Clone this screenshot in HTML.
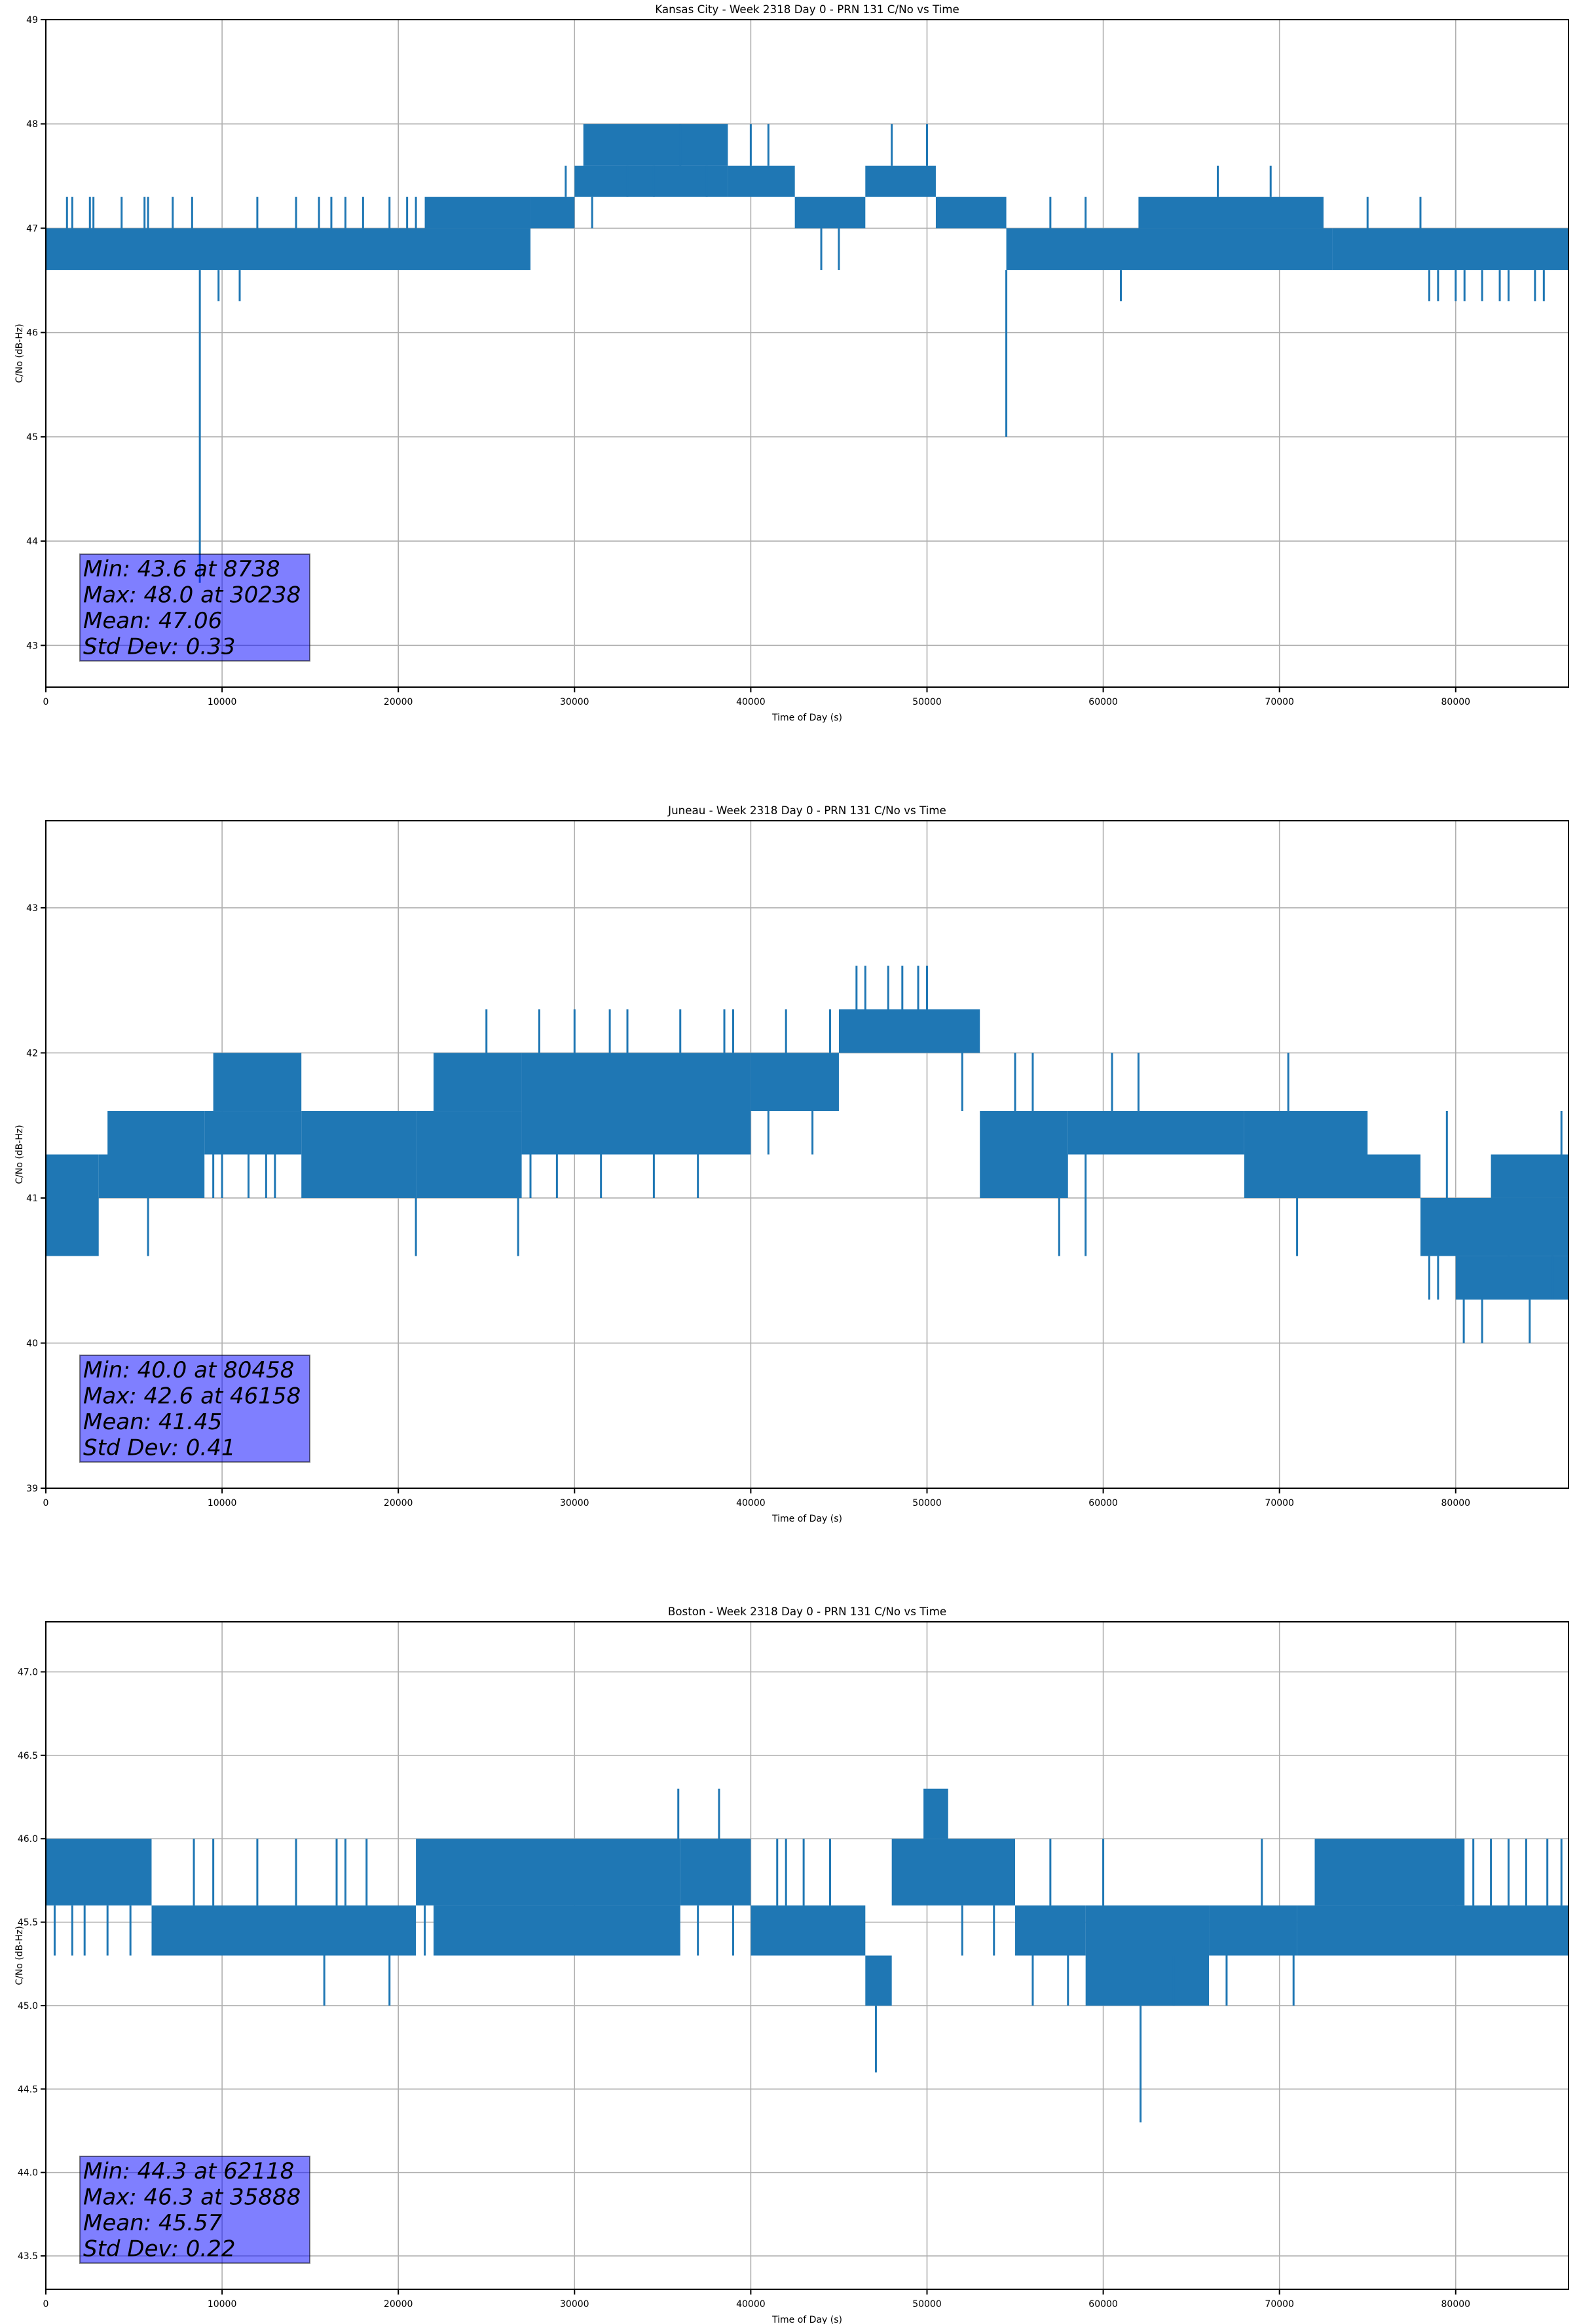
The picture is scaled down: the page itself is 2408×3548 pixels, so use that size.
<!DOCTYPE html>
<html><head><meta charset="utf-8">
<style>
html,body{margin:0;padding:0;background:#fff;}
svg{display:block;font-family:"DejaVu Sans","Liberation Sans",sans-serif;}
</style></head>
<body>
<svg id="fig" width="2408" height="3548" viewBox="0 0 2408 3548" xmlns="http://www.w3.org/2000/svg"></svg>
<script>
// ---- Chart data ----
// Bands: [startTime, endTime, low, high]  (dense vertical C/No sweeps)
const titles = ["Kansas City - Week 2318 Day 0 - PRN 131 C/No vs Time",
                "Juneau - Week 2318 Day 0 - PRN 131 C/No vs Time",
                "Boston - Week 2318 Day 0 - PRN 131 C/No vs Time"];
const yLimits = [[42.6, 49.0], [39.0, 43.6], [43.3, 47.3]];
const yTicks1 = [43, 44, 45, 46, 47, 48, 49];
const yTicks2 = [39, 40, 41, 42, 43];
const yTicks3 = [43.5, 44.0, 44.5, 45.0, 45.5, 46.0, 46.5, 47.0];
const xTicks = [0, 10000, 20000, 30000, 40000, 50000, 60000, 70000, 80000];
const xMax = 86400;

const bands1 = [
 [0,27500,46.6,47.0],[21500,27500,47.0,47.3],[27500,30000,47.0,47.3],
 [30000,38700,47.3,47.6],[30500,38700,47.6,48.0],[38700,42500,47.3,47.6],
 [42500,46500,47.0,47.3],[46500,50500,47.3,47.6],[50500,54500,47.0,47.3],
 [54500,61000,46.6,47.0],[61000,73000,46.6,47.0],[62000,72500,47.0,47.3],
 [73000,86400,46.6,47.0]
];
const spikeT1 = [8738,9800,11000,44000,45000,54500,61000,78500,80000,81500,83000,84500,
  1200,1500,2500,2700,4300,5600,5800,7200,8300,12000,14200,15500,16200,17000,18000,19500,20500,21000,
  36000,40000,41000,48000,50000,57000,59000,66500,69500,75000,78000,29500,46000,31000,
  79000,80500,82500,85000,33000,34500,37500,39500];
const spikeV1 = [43.6,46.3,46.3,46.6,46.6,45.0,46.3,46.3,46.3,46.3,46.3,46.3,
  47.3,47.3,47.3,47.3,47.3,47.3,47.3,47.3,47.3,47.3,47.3,47.3,47.3,47.3,47.3,47.3,47.3,47.3,
  48.0,48.0,48.0,48.0,48.0,47.3,47.3,47.6,47.6,47.3,47.3,47.6,47.0,47.0,
  46.3,46.3,46.3,46.3,47.3,47.3,47.3,47.3];

const bands2 = [
 [0,3000,40.6,41.3],[3000,9000,41.0,41.3],[3500,9000,41.3,41.6],
 [9000,14500,41.3,41.6],[9500,14500,41.6,42.0],[14500,21000,41.0,41.3],[14500,21000,41.3,41.6],
 [21000,27000,41.0,41.6],[22000,27000,41.6,42.0],[27000,40000,41.3,42.0],
 [40000,45000,41.6,42.0],[45000,53000,42.0,42.3],[53000,58000,41.0,41.6],
 [58000,68000,41.3,41.6],[68000,78000,41.0,41.3],[68000,75000,41.3,41.6],
 [78000,86400,40.6,41.0],[80000,86400,40.3,40.6],[82000,86400,41.0,41.3]
];
const spikeT2 = [5800,21000,26800,46000,47800,50000,80458,84200,59000,57500,71000,
  30000,33000,36000,38500,46500,48600,49500,86000,79500,
  10000,11500,13000,27500,29000,31500,34500,37000,41000,43500,44500,
  9500,12500,25000,28000,32000,39000,42000,52000,55000,56000,60500,62000,66500,70500,
  78500,79000,81500,83000,85500];
const spikeV2 = [40.6,40.6,40.6,42.6,42.6,42.6,40.0,40.0,40.6,40.6,40.6,
  42.3,42.3,42.3,42.3,42.6,42.6,42.6,41.6,41.6,
  41.0,41.0,41.0,41.0,41.0,41.0,41.0,41.0,41.3,41.3,42.3,
  41.0,41.0,42.3,42.3,42.3,42.3,42.3,41.6,42.0,42.0,42.0,42.0,41.6,42.0,
  40.3,40.3,40.0,40.3,40.3];

const bands3 = [
 [0,6000,45.6,46.0],[6000,21000,45.3,45.6],[21000,36000,45.6,46.0],[22000,36000,45.3,45.6],
 [36000,40000,45.6,46.0],[40000,46500,45.3,45.6],[46500,48000,45.0,45.3],
 [48000,55000,45.6,46.0],[49800,51200,46.0,46.3],[55000,59000,45.3,45.6],
 [59000,66000,45.0,45.3],[59000,66000,45.3,45.6],[66000,71000,45.3,45.6],
 [71000,86400,45.3,45.6],[72000,80500,45.6,46.0]
];
const spikeT3 = [35888,38200,47100,62118,15800,19500,70800,1500,3500,8400,14200,17000,
  42000,44500,56000,58000,82000,84000,86000,
  500,2200,4800,9500,12000,16500,18200,21500,37000,39000,41500,43000,52000,
  53800,57000,60000,64000,67000,69000,81000,83000,85200];
const spikeV3 = [46.3,46.3,44.6,44.3,45.0,45.0,45.0,45.3,45.3,46.0,46.0,46.0,
  46.0,46.0,45.0,45.0,46.0,46.0,46.0,
  45.3,45.3,45.3,46.0,46.0,46.0,46.0,45.3,45.3,45.3,46.0,46.0,45.3,
  45.3,46.0,46.0,45.0,45.0,46.0,46.0,46.0,46.0];

const statLines = [
 ["Min: 43.6 at 8738","Max: 48.0 at 30238","Mean: 47.06","Std Dev: 0.33"],
 ["Min: 40.0 at 80458","Max: 42.6 at 46158","Mean: 41.45","Std Dev: 0.41"],
 ["Min: 44.3 at 62118","Max: 46.3 at 35888","Mean: 45.57","Std Dev: 0.22"]
];

// ---- Layout ----
const L = 70, R = 2395, H = 1019;
const tops = [30, 1253, 2476];
const NS = "http://www.w3.org/2000/svg";
const svg = document.getElementById("fig");
function mk(tag, attrs, parent){ const e=document.createElementNS(NS,tag); for(const k in attrs) e.setAttribute(k,attrs[k]); (parent||svg).appendChild(e); return e; }

const allBands=[bands1,bands2,bands3], allST=[spikeT1,spikeT2,spikeT3], allSV=[spikeV1,spikeV2,spikeV3], allYT=[yTicks1,yTicks2,yTicks3];
const color="#1f77b4";

for(let p=0;p<3;p++){
  const top=tops[p], bot=top+H;
  const [y0,y1]=yLimits[p];
  const xs = t => L + (t/xMax)*(R-L);
  const ys = v => bot - (v-y0)/(y1-y0)*H;
  const g = mk("g",{});
  
  
  const grid = mk("g",{},g);
  
  
  xTicks.forEach(t=>{ mk("line",{x1:xs(t),x2:xs(t),y1:top,y2:bot,stroke:"#b0b0b0","stroke-width":1.6},grid); });
  allYT[p].forEach(v=>{ mk("line",{x1:L,x2:R,y1:ys(v),y2:ys(v),stroke:"#b0b0b0","stroke-width":1.6},grid); });
  const ser = mk("g",{},g);
  
  
  allBands[p].forEach(b=>{
    const r = mk("rect",{x:xs(b[0]),y:ys(b[3]),width:Math.max(1,xs(b[1])-xs(b[0])),height:ys(b[2])-ys(b[3]),fill:color},ser);
    
    
  });
  const st=allST[p], sv=allSV[p];
  st.forEach((t,i)=>{
    let ref=null; allBands[p].forEach(b=>{ if(t>=b[0]&&t<=b[1]){ if(sv[i]<b[2]) ref = ref===null?b[2]:Math.min(ref,b[2]); else if(sv[i]>b[3]) ref = ref===null?b[3]:Math.max(ref,b[3]); }});
    if(ref===null) ref=sv[i];
    const l = mk("line",{x1:xs(t),x2:xs(t),y1:ys(ref),y2:ys(sv[i]),stroke:color,"stroke-width":3},ser);
    
    
  });
  const fr = mk("rect",{x:L,y:top,width:R-L,height:H,fill:"none",stroke:"#000","stroke-width":2},g);
  
  
  xTicks.forEach(t=>{
    mk("line",{x1:xs(t),x2:xs(t),y1:bot,y2:bot+8,stroke:"#000","stroke-width":2},g);
    const tx = mk("text",{x:xs(t),y:bot+27,"font-size":14,"text-anchor":"middle",fill:"#000"},g);
    tx.textContent=t;
    
    
  });
  allYT[p].forEach(v=>{
    mk("line",{x1:L-8,x2:L,y1:ys(v),y2:ys(v),stroke:"#000","stroke-width":2},g);
    const tx = mk("text",{x:L-12,y:ys(v)+5,"font-size":14,"text-anchor":"end",fill:"#000"},g);
    tx.textContent = p===2 ? v.toFixed(1) : v;
    
    
  });
  const ti = mk("text",{x:(L+R)/2,y:top-10,"font-size":16.7,"text-anchor":"middle",fill:"#000"},g);
  ti.textContent=titles[p];
  
  
  const xl = mk("text",{x:(L+R)/2,y:bot+51,"font-size":14,"text-anchor":"middle",fill:"#000"},g);
  xl.textContent="Time of Day (s)";
  
  
  const yl = mk("text",{x:0,y:0,"font-size":14,"text-anchor":"middle",fill:"#000",transform:`translate(34,${top+H/2}) rotate(-90)`},g);
  yl.textContent="C/No (dB-Hz)";
  
  
  const bx = mk("rect",{x:122,y:bot-203,width:351,height:163,fill:"rgba(0,0,255,0.5)",stroke:"rgba(0,0,0,0.5)","stroke-width":2},g);
  
  
  statLines[p].forEach((s,i)=>{
    const t = mk("text",{x:127,y:bot-203+34+i*39.5,"font-size":34,"font-style":"italic",fill:"#000"},g);
    t.textContent=s;
    
    
  });
}
</script>
</body></html>
